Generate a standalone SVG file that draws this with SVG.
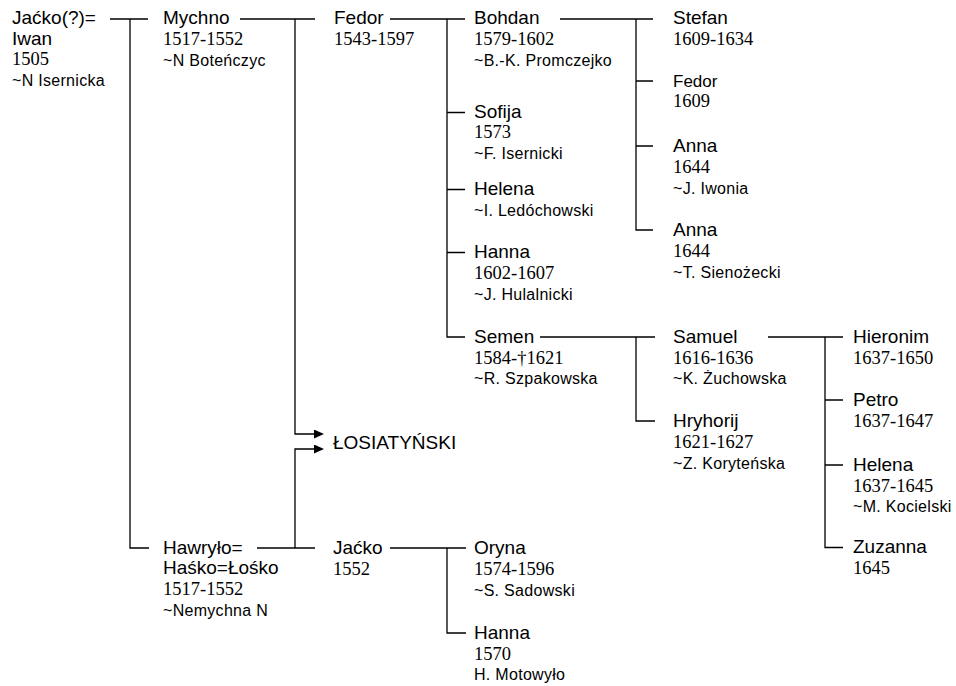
<svg xmlns="http://www.w3.org/2000/svg" width="956" height="686" viewBox="0 0 956 686">
<defs>
<style>
.n{font-family:"Liberation Sans",Arial,sans-serif;font-size:19px;fill:#000}
.ns{font-family:"Liberation Sans",Arial,sans-serif;font-size:17px;fill:#000}
.y{font-family:"Liberation Serif","Times New Roman",serif;font-size:18.5px;fill:#000}
.s{font-family:"Liberation Sans",Arial,sans-serif;font-size:16px;letter-spacing:0.3px;fill:#000}
.c{fill:none;stroke:#000;stroke-width:1.3}
</style>
<marker id="ah" markerUnits="userSpaceOnUse" markerWidth="11" markerHeight="10" refX="0" refY="4.5" orient="auto"><path d="M0,0 L10,4.5 L0,9 Z" fill="#000"/></marker>
</defs>
<rect width="956" height="686" fill="#fff"/>
<g id="connectors">
<path class="c" d="M110,19 H148 M130,19 V548 H149"/>
<path class="c" d="M240,19 H315"/>
<path class="c" d="M295,19 V434 H314" marker-end="url(#ah)"/>
<path class="c" d="M257,548 H315"/>
<path class="c" d="M295,548 V449 H314" marker-end="url(#ah)"/>
<path class="c" d="M390,19 H465 M447,19 V337 H465 M447,112.5 H465 M447,189.5 H465 M447,252.5 H465"/>
<path class="c" d="M560,19 H653 M636,19 V230 H653 M636,81 H653 M636,146 H653"/>
<path class="c" d="M540,337 H655 M636,337 V421 H655"/>
<path class="c" d="M768,337 H843 M825,337 V547.5 H843 M825,400 H843 M825,465 H843"/>
<path class="c" d="M390,548 H466 M447,548 V633 H466"/>
</g>
<g id="jacko-iwan"><text class="n" x="12" y="24">Jaćko(?)=</text><text class="n" x="12" y="44.5">Iwan</text><text class="y" x="12" y="65">1505</text><text class="s" x="12" y="85.5">~N Isernicka</text></g>
<g id="mychno"><text class="n" x="163" y="24">Mychno</text><text class="y" x="163" y="45">1517-1552</text><text class="s" x="163" y="65.5">~N Boteńczyc</text></g>
<g id="hawrylo"><text class="n" x="163" y="553.5">Hawryło=</text><text class="n" x="163" y="574">Haśko=Łośko</text><text class="y" x="163" y="595">1517-1552</text><text class="s" x="163" y="616">~Nemychna N</text></g>
<g id="losiatynski"><text class="n" x="333" y="449">ŁOSIATYŃSKI</text></g>
<g id="fedor"><text class="n" x="334" y="24">Fedor</text><text class="y" x="334" y="45">1543-1597</text></g>
<g id="jacko"><text class="n" x="333" y="553.5">Jaćko</text><text class="y" x="333" y="574.5">1552</text></g>
<g id="bohdan"><text class="n" x="474" y="24">Bohdan</text><text class="y" x="474" y="45">1579-1602</text><text class="s" x="474" y="66">~B.-K. Promczejko</text></g>
<g id="sofija"><text class="n" x="474" y="117.5">Sofija</text><text class="y" x="474" y="138">1573</text><text class="s" x="474" y="158.5">~F. Isernicki</text></g>
<g id="helena"><text class="n" x="474" y="195">Helena</text><text class="s" x="474" y="215.5">~I. Ledóchowski</text></g>
<g id="hanna"><text class="n" x="474" y="258">Hanna</text><text class="y" x="474" y="279">1602-1607</text><text class="s" x="474" y="300">~J. Hulalnicki</text></g>
<g id="semen"><text class="n" x="474" y="342.5">Semen</text><text class="y" x="474" y="363.5">1584-†1621</text><text class="s" x="474" y="384">~R. Szpakowska</text></g>
<g id="oryna"><text class="n" x="474" y="553.5">Oryna</text><text class="y" x="474" y="574.5">1574-1596</text><text class="s" x="474" y="595.5">~S. Sadowski</text></g>
<g id="hanna-2"><text class="n" x="474" y="638.5">Hanna</text><text class="y" x="474" y="659.5">1570</text><text class="s" x="474" y="680">H. Motowyło</text></g>
<g id="stefan"><text class="n" x="673" y="24">Stefan</text><text class="y" x="673" y="44.5">1609-1634</text></g>
<g id="fedor-2"><text class="ns" x="673" y="86.5">Fedor</text><text class="y" x="673" y="107">1609</text></g>
<g id="anna-1"><text class="n" x="673" y="151.5">Anna</text><text class="y" x="673" y="172.5">1644</text><text class="s" x="673" y="193.5">~J. Iwonia</text></g>
<g id="anna-2"><text class="n" x="673" y="236">Anna</text><text class="y" x="673" y="257">1644</text><text class="s" x="673" y="278">~T. Sienożecki</text></g>
<g id="samuel"><text class="n" x="673" y="342.5">Samuel</text><text class="y" x="673" y="363.5">1616-1636</text><text class="s" x="673" y="384">~K. Żuchowska</text></g>
<g id="hryhorij"><text class="n" x="673" y="426.5">Hryhorij</text><text class="y" x="673" y="447.5">1621-1627</text><text class="s" x="673" y="468.5">~Z. Koryteńska</text></g>
<g id="hieronim"><text class="n" x="853" y="342.5">Hieronim</text><text class="y" x="853" y="363.5">1637-1650</text></g>
<g id="petro"><text class="n" x="853" y="406">Petro</text><text class="y" x="853" y="426.5">1637-1647</text></g>
<g id="helena-2"><text class="n" x="853" y="471">Helena</text><text class="y" x="853" y="491.5">1637-1645</text><text class="s" x="853" y="512">~M. Kocielski</text></g>
<g id="zuzanna"><text class="n" x="853" y="553">Zuzanna</text><text class="y" x="853" y="574">1645</text></g>
</svg>
